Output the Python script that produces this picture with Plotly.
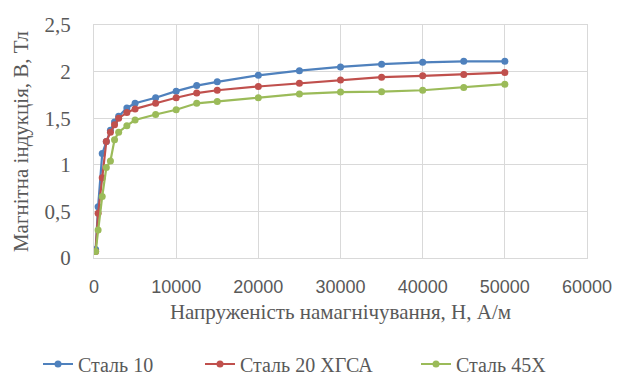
import plotly.graph_objects as go

# Magnetizing field strength H, A/m
field_h = [200, 500, 1000, 1500, 2000, 2500, 3000, 4000, 5000, 7500,
           10000, 12500, 15000, 20000, 25000, 30000, 35000, 40000, 45000, 50000]

# Magnetic induction B, T
steel_10 = [0.09, 0.55, 1.12, 1.25, 1.37, 1.46, 1.52, 1.61, 1.66, 1.72,
            1.79, 1.85, 1.89, 1.96, 2.01, 2.05, 2.08, 2.10, 2.11, 2.11]
steel_20_hgsa = [0.07, 0.48, 0.86, 1.25, 1.35, 1.43, 1.50, 1.56, 1.60, 1.66,
                 1.72, 1.77, 1.80, 1.84, 1.875, 1.91, 1.94, 1.955, 1.97, 1.99]
steel_45h = [0.07, 0.30, 0.66, 0.97, 1.04, 1.27, 1.35, 1.42, 1.48, 1.54,
             1.59, 1.66, 1.68, 1.72, 1.76, 1.78, 1.785, 1.80, 1.83, 1.865]

series_names = ["Сталь 10", "Сталь 20 ХГСА", "Сталь 45Х"]
series_colors = ["#4F81BD", "#C0504D", "#9BBB59"]
legend_ids = ["legend", "legend2", "legend3"]
legend_left_px = [38, 200, 416]

x_ticks = [0, 10000, 20000, 30000, 40000, 50000, 60000]
y_ticks = [0, 0.5, 1, 1.5, 2, 2.5]
y_tick_text = ["0", "0,5", "1", "1,5", "2", "2,5"]

W, H = 621, 385
serif = "Liberation Serif, Times New Roman, serif"
sans = "Liberation Sans, Arial, sans-serif"
text_color = "#595959"

fig = go.Figure()
for name, vals, color, lid in zip(series_names, [steel_10, steel_20_hgsa, steel_45h],
                                  series_colors, legend_ids):
    fig.add_trace(go.Scatter(
        x=field_h, y=vals, name=name, mode="lines+markers",
        line=dict(color=color, width=2.2),
        marker=dict(color=color, size=7, symbol="circle"),
        legend=lid,
    ))

# one legend box per series, laid out in a row under the axis title
legend_boxes = {}
for lid, left in zip(legend_ids, legend_left_px):
    legend_boxes[lid] = dict(
        orientation="h", xref="container", yref="container",
        x=left / W, xanchor="left", y=1 - 364 / H, yanchor="middle",
        font=dict(family=serif, size=20, color=text_color),
        itemwidth=30, bgcolor="rgba(0,0,0,0)",
    )

fig.update_layout(
    width=W, height=H,
    margin=dict(l=94, r=34, t=25, b=127, autoexpand=False),
    paper_bgcolor="white", plot_bgcolor="white",
    font=dict(family=serif, size=20, color=text_color),
    showlegend=True,
    **legend_boxes,
    xaxis=dict(
        range=[0, 60000], tickvals=x_ticks, ticktext=[str(v) for v in x_ticks],
        showgrid=True, gridcolor="#D9D9D9", gridwidth=1,
        showline=True, linecolor="#D9D9D9", zeroline=False,
        mirror=True, ticks="", ticklabelstandoff=12,
        tickfont=dict(family=sans, size=18, color=text_color),
        title=dict(text="Напруженість намагнічування, Н, А/м",
                   font=dict(family=serif, size=21, color=text_color), standoff=8),
    ),
    yaxis=dict(
        range=[0, 2.5], tickvals=y_ticks, ticktext=y_tick_text,
        showgrid=True, gridcolor="#D9D9D9", gridwidth=1,
        showline=True, linecolor="#D9D9D9", zeroline=False,
        mirror=True, ticks="", ticklabelstandoff=18,
        tickfont=dict(family=serif, size=21, color=text_color),
        title=dict(text="Магнітна індукція, В, Тл",
                   font=dict(family=serif, size=21, color=text_color), standoff=10),
    ),
)

fig.write_html("out.html")
